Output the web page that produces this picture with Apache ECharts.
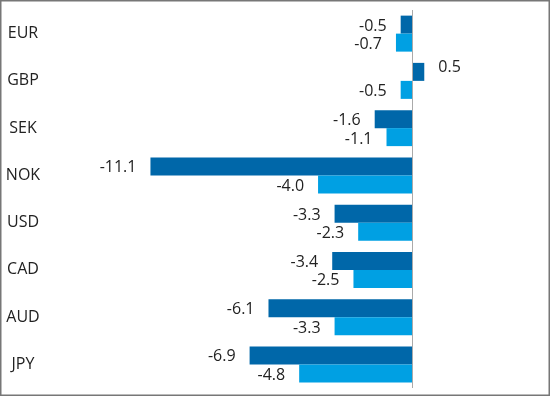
<!DOCTYPE html>
<html>
<head>
<meta charset="utf-8">
<script src="https://cdn.jsdelivr.net/npm/echarts@6/dist/echarts.min.js"></script>
<style>
  html, body { margin: 0; padding: 0; background: #fff; }
  #chart { width: 550px; height: 396px; }
</style>
</head>
<body>
<div id="chart"></div>
<script>
const categories = ['EUR', 'GBP', 'SEK', 'NOK', 'USD', 'CAD', 'AUD', 'JPY'];
const darkValues = [-0.5, 0.5, -1.6, -11.1, -3.3, -3.4, -6.1, -6.9];
const lightValues = [-0.7, -0.5, -1.1, -4.0, -2.3, -2.5, -3.3, -4.8];

const fontFamily = '"Open Sans", "Noto Sans", sans-serif';

// negative values get their label on the left, positive on the right (a bit raised)
const withLabels = (list, dy) => list.map(v => ({
  value: v,
  label: { position: v < 0 ? 'left' : 'right', offset: [0, v < 0 ? dy : -4] }
}));

const chart = echarts.init(document.getElementById('chart'));
chart.setOption({
  animation: false,
  grid: { left: 82, right: 19.5, top: 10, bottom: 8 },
  graphic: [{
    type: 'rect',
    shape: { x: 0.75, y: 0.75, width: 548.5, height: 394.5 },
    style: { fill: 'none', stroke: '#777', lineWidth: 1.5 },
    silent: true
  }],
  xAxis: {
    type: 'value',
    min: -14,
    max: 5,
    show: false
  },
  yAxis: {
    type: 'category',
    data: categories,
    inverse: true,
    axisLine: { show: false, onZero: false },
    axisTick: { show: false },
    axisLabel: {
      align: 'center',
      margin: 59,
      fontSize: 16,
      color: '#222',
      fontFamily: fontFamily
    }
  },
  series: [
    {
      type: 'bar',
      data: withLabels(darkValues, 1.5),
      barWidth: 18,
      barGap: '0%',
      itemStyle: { color: '#0067a9' },
      label: {
        show: true,
        distance: 14,
        fontSize: 16,
        color: '#222',
        fontFamily: fontFamily,
        formatter: p => p.value.toFixed(1)
      },
      markLine: {
        silent: true,
        symbol: 'none',
        label: { show: false },
        lineStyle: { color: '#aaa', type: 'solid', width: 1 },
        data: [{ xAxis: 0 }]
      }
    },
    {
      type: 'bar',
      data: withLabels(lightValues, 2),
      barWidth: 18,
      barGap: '0%',
      itemStyle: { color: '#00a0e3' },
      label: {
        show: true,
        distance: 14,
        fontSize: 16,
        color: '#222',
        fontFamily: fontFamily,
        formatter: p => p.value.toFixed(1)
      }
    }
  ]
});
</script>
</body>
</html>
